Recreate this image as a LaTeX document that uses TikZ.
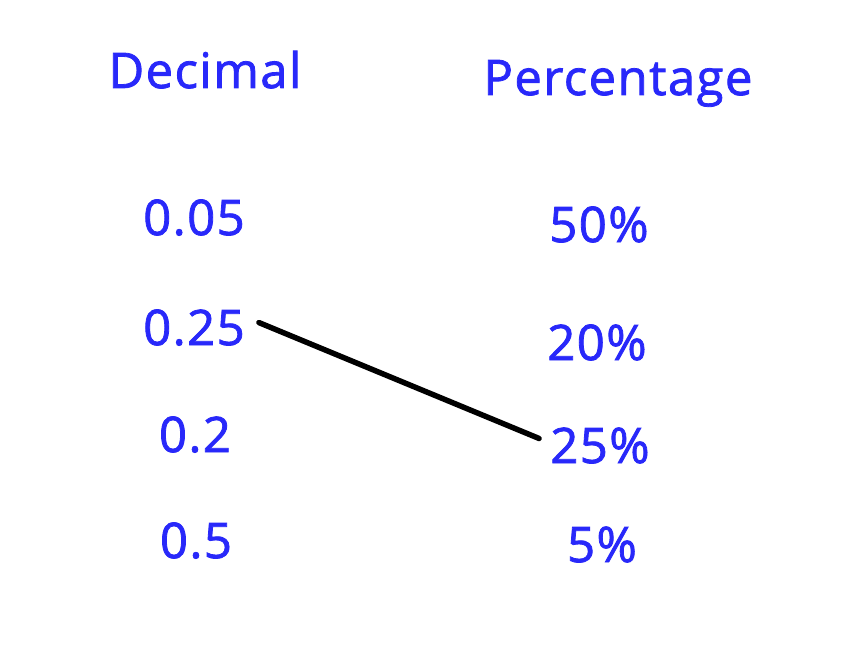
\documentclass[tikz,border=0pt]{standalone}
\usepackage{fontspec}
\newfontfamily\lblfont[FakeBold=1.6,LetterSpace=3]{Open Sans}
\definecolor{txtblue}{RGB}{40,40,250}
\begin{document}
\begin{tikzpicture}[x=1pt,y=-1pt,
  lbl/.style={text=txtblue,inner sep=0pt,anchor=base,font=\lblfont\fontsize{49}{49}\selectfont},
  link/.style={line width=5.5pt,line cap=round,black}]
\fill[white] (0,0) rectangle (864,650);
\useasboundingbox (0,0) rectangle (864,650);
\node[lbl] (hd) at (205,88) {Decimal};
\node[lbl] (hp) at (618,95) {Percentage};
\node[lbl] (d1) at (194,235) {0.05};
\node[lbl] (d2) at (194,345) {0.25};
\node[lbl] (d3) at (195,452) {0.2};
\node[lbl] (d4) at (196,558) {0.5};
\node[lbl] (p1) at (599,242) {50\%};
\node[lbl] (p2) at (597,360) {20\%};
\node[lbl] (p3) at (600,463) {25\%};
\node[lbl] (p4) at (602,562) {5\%};
\draw[link] ([xshift=14pt,yshift=5pt]d2.east) -- ([xshift=-11pt,yshift=7pt]p3.west);
\end{tikzpicture}
\end{document}
